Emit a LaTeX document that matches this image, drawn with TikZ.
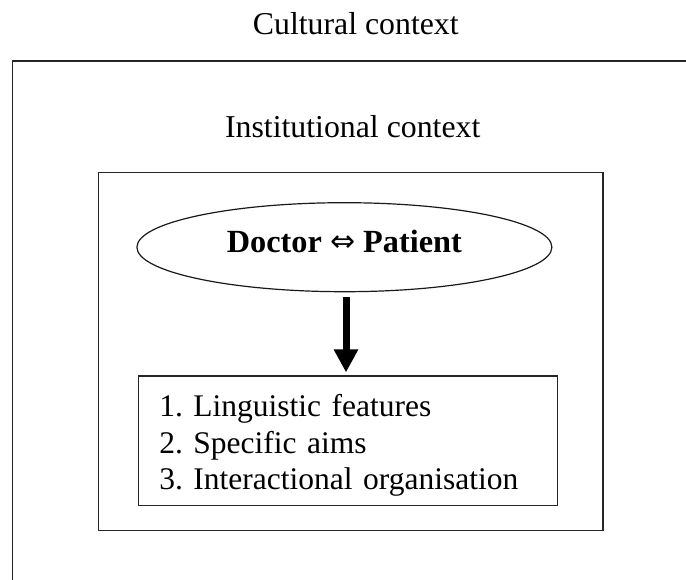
\documentclass[tikz,border=0pt]{standalone}
\usepackage{fontspec}
\setmainfont{Liberation Serif}
\newfontfamily\arrfont{DejaVu Sans}
\usetikzlibrary{shapes.geometric,arrows.meta}
\frenchspacing

\tikzset{
  frame/.style={draw=black!85, line width=1.3pt},
  title/.style={font=\fontsize{31.8}{36}\selectfont, inner sep=0pt, anchor=base},
  partybox/.style={ellipse, draw=black!90, line width=1.2pt, inner sep=0pt,
    minimum width=415pt, minimum height=89pt,
    font=\fontsize{32.3}{36}\selectfont\bfseries, text height=21pt, text depth=10pt},
  listbox/.style={rectangle, draw=black!85, line width=1.3pt,
    minimum width=419pt, minimum height=129.7pt, inner xsep=21pt, inner ysep=0pt,
    text width=377pt, align=left, font=\fontsize{31.5}{36.3}\selectfont},
  flow/.style={line width=7pt, -{Triangle[width=23pt,length=23pt]},
    shorten <=5pt, shorten >=3pt}
}

\begin{document}
\begin{tikzpicture}[x=1pt, y=-1pt]
  \useasboundingbox (0,0) rectangle (686,579);
  \clip (0,0) rectangle (686,579);

  % cultural context: open frame running off the right and bottom
  \node[title] (culture) at (355.8,34.3) {Cultural context};
  \draw[frame] (12.5,600) -- (12.5,61) -- (700,61);

  % institutional context
  \node[title] (institution) at (352.7,137.3) {Institutional context};
  \node[frame, rectangle, minimum width=504.5pt, minimum height=358pt, inner sep=0pt]
    (inst) at (350.6,351.6) {};

  % participants
  \node[partybox] (party) at (344.4,247.2)
    {Doctor {\arrfont\mdseries\fontsize{30}{30}\selectfont\raisebox{1pt}{⇔}} Patient};

  % features of the interaction
  \node[listbox] (list) at (347.8,440.9)
    {\rule{0pt}{31pt}1. Linguistic features\\2. Specific aims\\3. Interactional organisation};

  % influence of the encounter on its features
  \coordinate (flowx) at (346,0);
  \draw[flow] (party.south -| flowx) -- (list.north -| flowx);
\end{tikzpicture}
\end{document}
